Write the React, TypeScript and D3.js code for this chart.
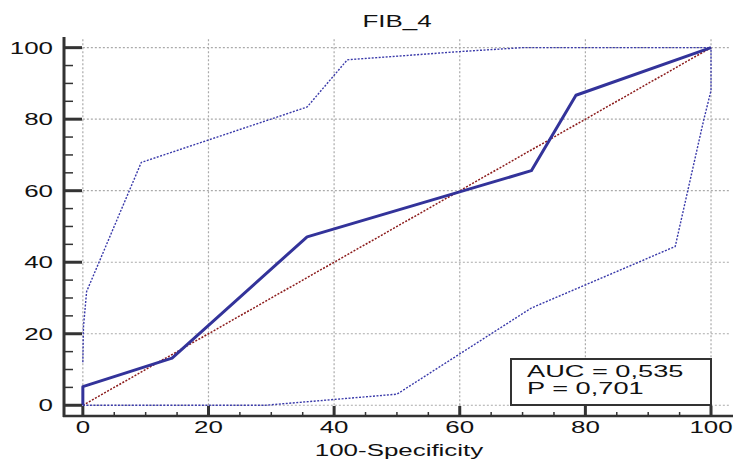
import * as d3 from 'd3';

// ROC curve for FIB_4 (100-Specificity vs Sensitivity)
const rocX = [0, 0, 14.2, 35.7, 71.4, 78.5, 100];
const rocY = [0, 5.2, 13.2, 47.1, 65.6, 86.7, 100];

// 95% confidence bounds
const upperX = [0, 0.1, 0.6, 9.3, 35.7, 42.1, 60, 70, 100];
const upperY = [12, 22, 31.8, 67.9, 83.4, 96.6, 98.9, 100, 100];
const lowerX = [0, 29, 50, 71.4, 94.3, 98.8, 100, 100];
const lowerY = [0, 0, 3.1, 27.2, 44.4, 79.5, 88, 100];

const diagX = [0, 100];
const diagY = [0, 100];

const majorTicks = [0, 20, 40, 60, 80, 100];
const minorTicks = d3.range(0, 101, 5).filter((d) => d % 20 !== 0);

const title = 'FIB_4';
const xLabel = '100-Specificity';
const statsLines = ['AUC = 0,535', 'P = 0,701'];

const width = 733;
const height = 459;
const font = '"Liberation Sans", Arial, sans-serif';

const x = d3.scaleLinear().domain([-3, 103.5]).range([64, 733]);
const y = d3.scaleLinear().domain([-3, 102.7]).range([416, 38]);

const toPts = (xs: number[], ys: number[]) => xs.map((v, i) => [v, ys[i]] as [number, number]);

const line = d3
  .line<[number, number]>()
  .x((d) => x(d[0]))
  .y((d) => y(d[1]));

const SText = ({
  tx,
  ty,
  anchor,
  sx = 1.62,
  children,
}: {
  tx: number;
  ty: number;
  anchor: string;
  sx?: number;
  children: string;
}) => (
  <text
    transform={`translate(${tx},${ty}) scale(${sx},1)`}
    textAnchor={anchor}
    fontFamily={font}
    fontSize={16}
    fill="#111"
  >
    {children}
  </text>
);

const App = () => {
  const axisColor = '#333';
  return (
    <svg width={width} height={height} style={{ position: 'absolute', left: 0, top: 0, background: '#fff' }}>
      {/* gridlines */}
      {majorTicks.map((t) => (
        <line
          key={'gx' + t}
          x1={x(t)}
          x2={x(t)}
          y1={y(0)}
          y2={y(102.7)}
          stroke="#aaa"
          strokeWidth={1.2}
          strokeDasharray="2,2"
        />
      ))}
      {majorTicks.map((t) => (
        <line
          key={'gy' + t}
          x1={x(0)}
          x2={730}
          y1={y(t)}
          y2={y(t)}
          stroke="#aaa"
          strokeWidth={1.2}
          strokeDasharray="2,2"
        />
      ))}

      {/* diagonal */}
      <path d={line(toPts(diagX, diagY)) ?? ''} fill="none" stroke="#8b1a1a" strokeWidth={1.5} strokeDasharray="2,1.5" />

      {/* confidence bounds */}
      <path d={line(toPts(upperX, upperY)) ?? ''} fill="none" stroke="#3a3aaa" strokeWidth={1.4} strokeDasharray="2,1.5" />
      <path d={line(toPts(lowerX, lowerY)) ?? ''} fill="none" stroke="#3a3aaa" strokeWidth={1.4} strokeDasharray="2,1.5" />

      {/* ROC curve */}
      <path d={line(toPts(rocX, rocY)) ?? ''} fill="none" stroke="#33339a" strokeWidth={3} strokeLinejoin="round" />

      {/* axes */}
      <line x1={64} x2={64} y1={37} y2={417} stroke={axisColor} strokeWidth={3} />
      <line x1={63} x2={733} y1={416} y2={416} stroke={axisColor} strokeWidth={2.5} />
      {majorTicks.map((t) => (
        <g key={'yt' + t}>
          <line x1={64} x2={82} y1={y(t)} y2={y(t)} stroke={axisColor} strokeWidth={3} />
          <SText tx={53} ty={y(t) + 6} anchor="end">
            {String(t)}
          </SText>
        </g>
      ))}
      {minorTicks.map((t) => (
        <line key={'ym' + t} x1={64} x2={73} y1={y(t)} y2={y(t)} stroke={axisColor} strokeWidth={1.5} />
      ))}
      {majorTicks.map((t) => (
        <g key={'xt' + t}>
          <line x1={x(t)} x2={x(t)} y1={406} y2={416} stroke={axisColor} strokeWidth={3} />
          <SText tx={x(t)} ty={433} anchor="middle">
            {String(t)}
          </SText>
        </g>
      ))}
      {minorTicks.map((t) => (
        <line key={'xm' + t} x1={x(t)} x2={x(t)} y1={412} y2={416} stroke={axisColor} strokeWidth={1.5} />
      ))}

      {/* stats box */}
      <rect x={511} y={359} width={200} height={46} fill="#fff" stroke="#333" strokeWidth={2} />
      {statsLines.map((s, i) => (
        <SText key={s} tx={527} ty={377 + i * 17} anchor="start" sx={1.7}>
          {s}
        </SText>
      ))}

      {/* labels */}
      <SText tx={397} ty={27} anchor="middle">
        {title}
      </SText>
      <SText tx={399} ty={456} anchor="middle">
        {xLabel}
      </SText>
    </svg>
  );
};

export default App;
